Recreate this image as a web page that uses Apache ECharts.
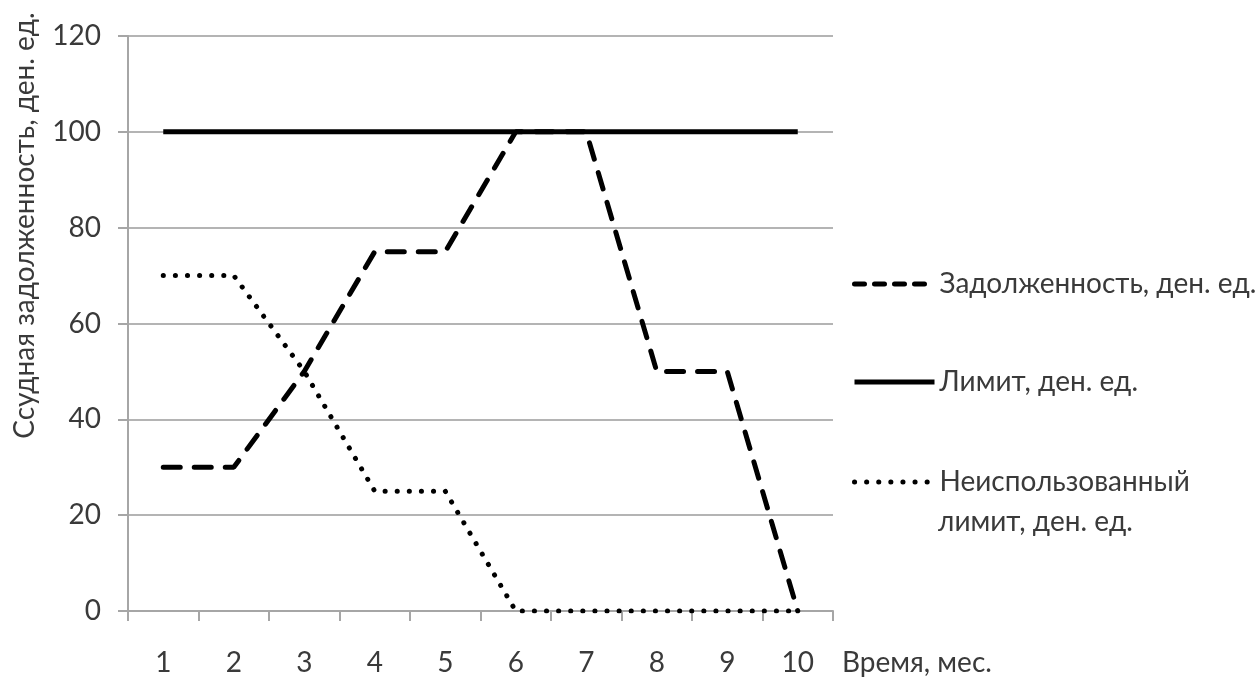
<!DOCTYPE html>
<html>
<head>
<meta charset="utf-8">
<script src="https://cdn.jsdelivr.net/npm/echarts@6/dist/echarts.min.js"></script>
<style>html,body{margin:0;padding:0;background:#fff;}#c{width:1257px;height:677px;}</style>
</head>
<body>
<div id="c"></div>
<script>
const months = ['1','2','3','4','5','6','7','8','9','10'];
const debt = [30, 30, 50, 75, 75, 100, 100, 50, 50, 0];
const limit = [100, 100, 100, 100, 100, 100, 100, 100, 100, 100];
const unused = [70, 70, 50, 25, 25, 0, 0, 0, 0, 0];
const yTicks = [0, 20, 40, 60, 80, 100, 120];
const names = ['Задолженность, ден. ед.', 'Лимит, ден. ед.', 'Неиспользованный'];
const unusedSecondLine = 'лимит, ден. ед.';
const xName = 'Время, мес.';
const yName = 'Ссудная задолженность, ден. ед.';

const FONT = 'Lato';
const FS = 28;
const TXT = '#3a3a3a';
const chart = echarts.init(document.getElementById('c'));
const lineCommon = {type: 'line', symbol: 'none', smooth: false, animation: false, color: '#000'};
const legendCommon = {
  left: 852, orient: 'vertical', itemWidth: 80, itemHeight: 20, itemGap: 6, padding: 0,
  itemStyle: {opacity: 0},
  textStyle: {fontFamily: FONT, fontSize: FS, color: TXT}
};
chart.setOption({
  backgroundColor: '#fff',
  animation: false,
  grid: {left: 128, right: 424, top: 36, bottom: 64, containLabel: false},
  legend: [
    Object.assign({}, legendCommon, {top: 270, data: [names[0]],
      lineStyle: {color: '#000', width: 5, type: [10, 10], cap: 'round'}}),
    Object.assign({}, legendCommon, {top: 368, data: [names[1]],
      lineStyle: {color: '#000', width: 5, type: 'solid'}}),
    Object.assign({}, legendCommon, {top: 468, data: [names[2]],
      lineStyle: {color: '#000', width: 5, type: [0.1, 12], cap: 'round'}})
  ],
  graphic: [{
    type: 'text', left: 938, top: 508,
    style: {text: unusedSecondLine, font: FS + 'px ' + FONT, fill: TXT}
  }],
  xAxis: {
    type: 'category', data: months, boundaryGap: true,
    name: xName, nameLocation: 'end', nameGap: 9,
    nameTextStyle: {fontFamily: FONT, fontSize: FS, color: TXT, align: 'left', verticalAlign: 'top', padding: [38, 0, 0, 0]},
    axisLine: {lineStyle: {color: '#a6a6a6', width: 2}},
    axisTick: {show: true, length: 10, inside: false, alignWithLabel: false, lineStyle: {color: '#a6a6a6', width: 2}},
    axisLabel: {fontFamily: FONT, fontSize: FS, color: TXT, margin: 38},
    splitLine: {show: false}
  },
  yAxis: {
    type: 'value', min: 0, max: 120, interval: 20,
    name: yName, nameLocation: 'middle', nameGap: 89, nameRotate: 90,
    nameTextStyle: {fontFamily: FONT, fontSize: FS, color: TXT, padding: [0, 0, 0, 196]},
    axisLine: {show: true, lineStyle: {color: '#a6a6a6', width: 2}},
    axisTick: {show: true, length: 10, lineStyle: {color: '#a6a6a6', width: 2}},
    axisLabel: {fontFamily: FONT, fontSize: FS, color: TXT, margin: 27,
      formatter: v => yTicks.includes(v) ? String(v) : ''},
    splitLine: {show: true, lineStyle: {color: '#b4b4b4', width: 2}}
  },
  series: [
    Object.assign({}, lineCommon, {name: names[0], data: debt, z: 3,
      lineStyle: {color: '#000', width: 5, type: [17, 14], cap: 'round'}}),
    Object.assign({}, lineCommon, {name: names[1], data: limit, z: 2,
      lineStyle: {color: '#000', width: 5, type: 'solid'}}),
    Object.assign({}, lineCommon, {name: names[2], data: unused, z: 4,
      lineStyle: {color: '#000', width: 5, type: [0.1, 12], cap: 'round'}})
  ]
});
</script>
</body>
</html>
